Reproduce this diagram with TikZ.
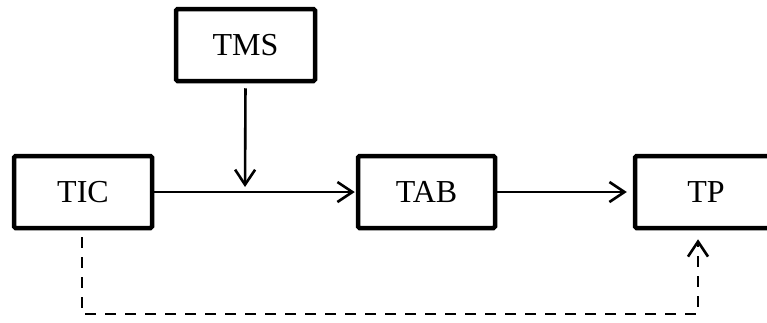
\documentclass[tikz,border=0pt]{standalone}
\usepackage{fontspec}
\setmainfont{Liberation Serif}
\usetikzlibrary{arrows.meta}
\begin{document}
\begin{tikzpicture}[x=1pt,y=-1pt,
  blockbox/.style={draw, line width=4.5pt, rounded corners=1.5pt, minimum height=72pt,
    inner sep=0pt, font=\fontsize{32}{38}\selectfont},
  flow/.style={line width=2.6pt, -{Straight Barb[length=15pt,width=20pt,line width=2.6pt]}},
  feedback/.style={flow, dash pattern=on 11pt off 9pt}]
  \useasboundingbox (0,0) rectangle (767,322);
  \clip (0,0) rectangle (767,322);
  % blocks
  \node[blockbox, minimum width=138pt] (tic) at (83,192) {TIC};
  \node[blockbox, minimum width=139pt] (tms) at (245.5,45) {TMS};
  \node[blockbox, minimum width=137pt] (tab) at (426.5,192) {TAB};
  \node[blockbox, minimum width=142pt] (tp)  at (706,192) {TP};
  % junction where the TMS input meets the main path
  \coordinate (join) at (245,192);
  % main path
  \draw[flow, shorten >=1pt] (tic.east) -- (tab.west);
  \draw[flow, shorten >=6pt] (tab.east) -- (tp.west);
  \draw[flow, shorten <=5pt, shorten >=5pt] (tms.south) -- (join);
  % feedback path below
  \coordinate (fbA) at (82,314);
  \coordinate (fbB) at (698,314);
  \draw[feedback, shorten <=7pt, shorten >=9pt]
    (tic.south -| fbA) -- (fbA) -- (fbB) -- (tp.south -| fbB);
\end{tikzpicture}
\end{document}
